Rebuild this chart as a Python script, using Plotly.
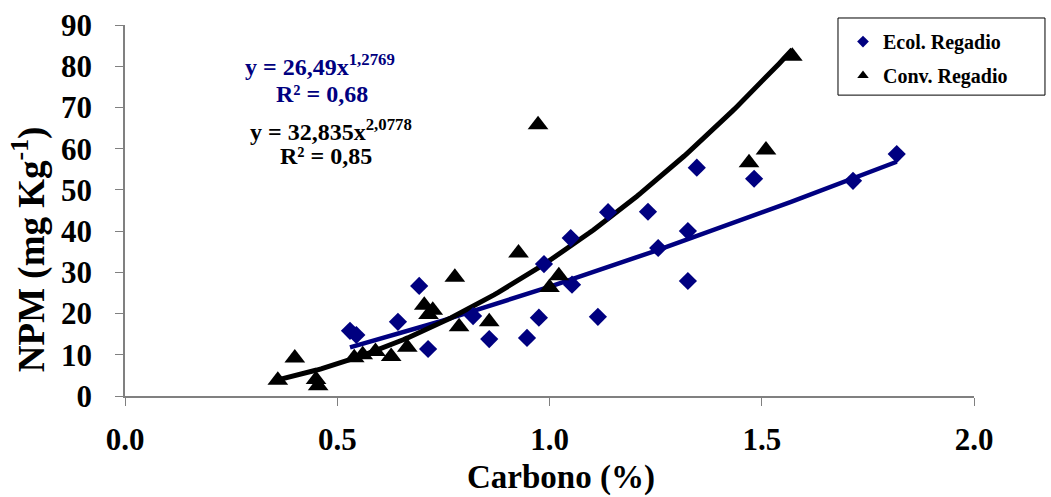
import numpy as np
import plotly.graph_objects as go

# Ecol. Regadio (diamonds)
ecol_x = [0.53, 0.545, 0.643, 0.693, 0.714, 0.82, 0.858, 0.947, 0.975, 0.987, 1.05,
          1.053, 1.114, 1.138, 1.232, 1.256, 1.326, 1.326, 1.347, 1.482, 1.715, 1.818]
ecol_y = [15.8, 14.8, 18.0, 26.7, 11.4, 19.4, 13.8, 14.1, 19.0, 32.0, 38.3,
          27.0, 19.2, 44.6, 44.7, 35.9, 40.0, 27.9, 55.4, 52.7, 52.2, 58.7]

# Conv. Regadio (triangles)
conv_x = [0.36, 0.40, 0.45, 0.455, 0.54, 0.56, 0.59, 0.627, 0.665, 0.705, 0.715,
          0.725, 0.777, 0.787, 0.858, 0.927, 0.973, 1.0, 1.022, 1.47, 1.51, 1.572]
conv_y = [3.8, 9.2, 4.0, 2.5, 9.3, 10.0, 10.8, 9.6, 11.8, 22.0, 19.8,
          20.8, 28.8, 16.8, 18.0, 34.7, 65.8, 26.3, 29.2, 56.6, 59.7, 82.4]

# Power trend-line coefficients shown on the chart
ecol_a, ecol_b = 26.49, 1.2769
conv_a, conv_b = 32.835, 2.0778

x_ticks = [0.0, 0.5, 1.0, 1.5, 2.0]
x_ticklabels = ["0.0", "0.5", "1.0", "1.5", "2.0"]
y_ticks = [0, 10, 20, 30, 40, 50, 60, 70, 80, 90]

NAVY = "#000080"
FONT = "Liberation Serif"

ex = np.linspace(min(ecol_x), max(ecol_x), 120)
cx = np.linspace(min(conv_x), max(conv_x), 120)

fig = go.Figure()
fig.add_trace(go.Scatter(x=ex, y=ecol_a * ex ** ecol_b, mode="lines",
                         line=dict(color=NAVY, width=4.5), showlegend=False, hoverinfo="skip"))
fig.add_trace(go.Scatter(x=cx, y=conv_a * cx ** conv_b, mode="lines",
                         line=dict(color="black", width=5), showlegend=False, hoverinfo="skip"))
fig.add_trace(go.Scatter(x=ecol_x, y=ecol_y, mode="markers",
                         marker=dict(symbol="diamond", size=14, color=NAVY),
                         showlegend=False))
fig.add_trace(go.Scatter(x=conv_x, y=conv_y, mode="markers",
                         marker=dict(symbol="triangle-up", size=18, color="black"),
                         showlegend=False))
# legend entries
fig.add_trace(go.Scatter(x=[None], y=[None], mode="markers", name="Ecol. Regadio",
                         legendgroup="a",
                         marker=dict(symbol="diamond", size=9, color=NAVY)))
fig.add_trace(go.Scatter(x=[None], y=[None], mode="markers", name="Conv. Regadio",
                         legendgroup="b",
                         marker=dict(symbol="triangle-up", size=10, color="black")))

annots = [
    ("y = 26,49x<sup>1,2769</sup>", 0.2297, 0.892, NAVY),
    ("R² = 0,68", 0.232, 0.814, NAVY),
    ("y = 32,835x<sup>2,0778</sup>", 0.2426, 0.717, "black"),
    ("R² = 0,85", 0.2367, 0.647, "black"),
]
for txt, ax, ay, col in annots:
    fig.add_annotation(x=ax, y=ay, xref="paper", yref="paper", text=txt, showarrow=False,
                       font=dict(family=FONT, size=24, color=col, weight="bold"),
                       xanchor="center", yanchor="middle")

# axis titles
fig.add_annotation(x=0.513, y=-0.221, xref="paper", yref="paper", text="Carbono (%)",
                   showarrow=False, xanchor="center", yanchor="middle",
                   font=dict(family=FONT, size=33, weight="bold", color="black"))
fig.add_annotation(x=-0.113, y=0.396, xref="paper", yref="paper",
                   text="NPM (mg Kg<sup>-1</sup>)", textangle=-90,
                   showarrow=False, xanchor="center", yanchor="middle",
                   font=dict(family=FONT, size=37, weight="bold", color="black"))

# legend box
fig.add_shape(type="rect", xref="paper", yref="paper", x0=0.8398, x1=1.0836, y0=0.811, y1=1.0189,
              line=dict(color="black", width=1), fillcolor="white", layer="above")

fig.update_layout(
    width=1051, height=497,
    margin=dict(l=125, r=77, t=25, b=101, autoexpand=False),
    paper_bgcolor="white", plot_bgcolor="white",
    font=dict(family=FONT, color="black"),
    legend=dict(x=0.8457, y=1.008, xanchor="left", yanchor="top",
                bgcolor="rgba(0,0,0,0)", borderwidth=0,
                font=dict(family=FONT, size=20, weight="bold", color="black"),
                tracegroupgap=5, itemwidth=30),
    xaxis=dict(range=[0, 2.0], tickvals=x_ticks, ticktext=x_ticklabels, automargin=False,
               showgrid=False, zeroline=False, showline=True, linecolor="#808080", linewidth=1.5,
               ticks="outside", ticklen=8, tickcolor="#808080", tickwidth=1.2,
               tickfont=dict(family=FONT, size=31, weight="bold"), ticklabelstandoff=7),
    yaxis=dict(range=[0, 90], tickvals=y_ticks, automargin=False,
               showgrid=False, zeroline=False, showline=True, linecolor="#808080", linewidth=1.5,
               ticks="outside", ticklen=8, tickcolor="#808080", tickwidth=1.2,
               tickfont=dict(family=FONT, size=31, weight="bold"), ticklabelstandoff=17),
)

fig.write_html("out.html", config={"displayModeBar": False},
               post_script="document.body.style.margin='0';document.body.style.overflow='hidden';")
